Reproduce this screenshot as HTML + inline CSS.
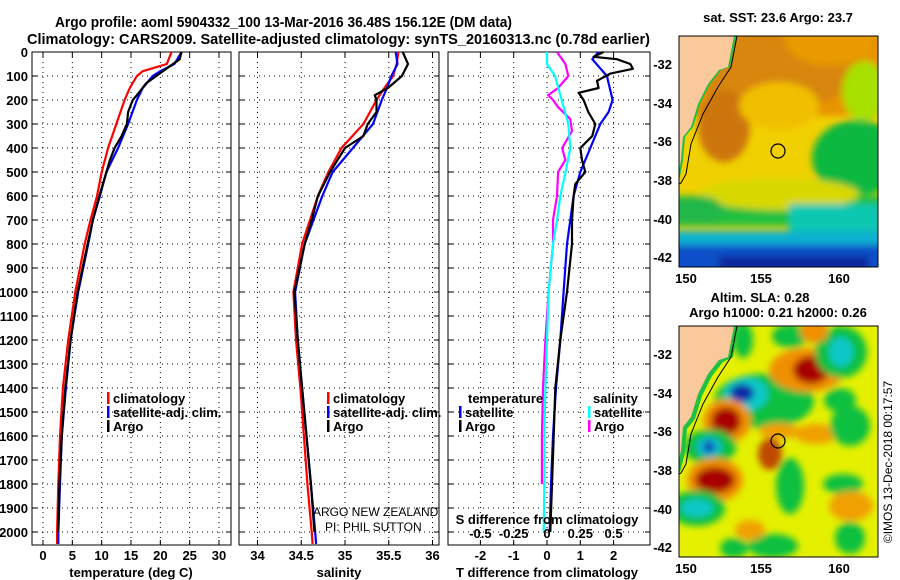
<!DOCTYPE html>
<html><head><meta charset="utf-8">
<style>
html,body{margin:0;padding:0;background:#fff;}
svg{display:block;font-family:"Liberation Sans",Arial,sans-serif;}
.b{font-weight:bold;font-size:13px;}
</style></head>
<body>
<svg id="chart" width="900" height="580" viewBox="0 0 900 580" xmlns="http://www.w3.org/2000/svg">
<defs>
<filter id="bl" x="-20%" y="-20%" width="140%" height="140%"><feGaussianBlur stdDeviation="3.5"/></filter>
<clipPath id="cm1"><rect x="0" y="0" width="199" height="231"/></clipPath>
<clipPath id="cm2"><rect x="0" y="0" width="199" height="231"/></clipPath>
</defs>
<text x="55" y="27" font-size="15" font-weight="bold" textLength="457" lengthAdjust="spacingAndGlyphs">Argo profile: aoml 5904332_100 13-Mar-2016 36.48S 156.12E (DM data)</text>
<text x="27" y="44" font-size="15" font-weight="bold" textLength="623" lengthAdjust="spacingAndGlyphs">Climatology: CARS2009. Satellite-adjusted climatology: synTS_20160313.nc (0.78d earlier)</text>
<g id="plots"></g>

<!-- Map 1 SST -->
<text x="778" y="22" text-anchor="middle" class="b">sat. SST: 23.6 Argo: 23.7</text>
<g transform="translate(679,36)">
 <g clip-path="url(#cm1)">
  <rect width="199" height="231" fill="#f0d000"/>
  <g filter="url(#bl)">
   <rect x="0" y="-10" width="210" height="90" fill="#e89400"/>
   <ellipse cx="95" cy="30" rx="85" ry="45" fill="#d88608"/>
   <ellipse cx="45" cy="90" rx="26" ry="36" fill="#cc7410"/>
   <ellipse cx="100" cy="70" rx="40" ry="24" fill="#f0c000"/>
   <ellipse cx="150" cy="0" rx="45" ry="30" fill="#e89a00"/>
   <ellipse cx="185" cy="55" rx="22" ry="30" fill="#a8e000"/>
   <ellipse cx="178" cy="122" rx="45" ry="38" fill="#10b840"/>
   <rect x="-10" y="160" width="220" height="30" fill="#20c040"/>
   <ellipse cx="100" cy="158" rx="80" ry="16" fill="#d8d800"/>
   <ellipse cx="20" cy="175" rx="25" ry="15" fill="#20b848"/>
   <rect x="110" y="168" width="100" height="35" fill="#10c8b0"/>
   <rect x="-10" y="195" width="220" height="16" fill="#10b0d0"/>
   <rect x="-10" y="209" width="220" height="30" fill="#0c50c8"/>
   <rect x="40" y="220" width="150" height="20" fill="#0a2aa0"/>
  </g>
  <polygon points="0,0 57,0 51,31 42,34 31,48 21,68 14,91 6,101 4,124 1,141 0,141" fill="#1cc040"/>
  <polygon points="0,0 55,0 49,31 40,34 29,48 19,68 12,91 4,101 2,124 0,135" fill="#f9c89b"/>
  <polyline points="58,0 52,31 39,51 24,78 12,108 7,138 2,147 0,148" fill="none" stroke="#000" stroke-width="1"/>
 </g>
 <rect width="199" height="231" fill="none" stroke="#000" stroke-width="1"/>
 <circle cx="99" cy="115" r="7" fill="none" stroke="#000" stroke-width="1.2"/>
</g>
<g class="b">
 <text x="672" y="69" text-anchor="end">-32</text><text x="672" y="108" text-anchor="end">-34</text><text x="672" y="146" text-anchor="end">-36</text><text x="672" y="185" text-anchor="end">-38</text><text x="672" y="224" text-anchor="end">-40</text><text x="672" y="262" text-anchor="end">-42</text>
 <text x="686" y="283" text-anchor="middle">150</text><text x="761" y="283" text-anchor="middle">155</text><text x="839" y="283" text-anchor="middle">160</text>
</g>

<!-- Map 2 SLA -->
<text x="760" y="302" text-anchor="middle" class="b">Altim. SLA: 0.28</text>
<text x="778" y="317" text-anchor="middle" class="b">Argo h1000: 0.21 h2000: 0.26</text>
<g transform="translate(679,326)">
 <g clip-path="url(#cm2)">
  <rect width="199" height="231" fill="#e4f000"/>
  <g filter="url(#bl)">
   <ellipse cx="85" cy="75" rx="50" ry="27" fill="#10c040"/>
   <ellipse cx="67" cy="68" rx="22" ry="17" fill="#10c8c8"/>
   <ellipse cx="63" cy="67" rx="12" ry="9" fill="#0a2aa8"/>
   <ellipse cx="48" cy="95" rx="24" ry="22" fill="#f09000"/>
   <ellipse cx="47" cy="95" rx="15" ry="14" fill="#a80000"/>
   <ellipse cx="31" cy="121" rx="26" ry="18" fill="#10c040"/>
   <ellipse cx="30" cy="121" rx="12" ry="10" fill="#10b8d8"/>
   <ellipse cx="30" cy="121" rx="5" ry="6" fill="#0a2aa8"/>
   <ellipse cx="36" cy="154" rx="28" ry="22" fill="#f09000"/>
   <ellipse cx="36" cy="154" rx="20" ry="13" fill="#a80000"/>
   <ellipse cx="18" cy="182" rx="28" ry="18" fill="#10c040"/>
   <ellipse cx="18" cy="182" rx="16" ry="9" fill="#10c8c8"/>
   <ellipse cx="128" cy="44" rx="38" ry="22" fill="#f09000"/>
   <ellipse cx="132" cy="44" rx="18" ry="14" fill="#a80000"/>
   <ellipse cx="162" cy="26" rx="26" ry="26" fill="#10c040"/>
   <ellipse cx="162" cy="26" rx="12" ry="15" fill="#10c8c8"/>
   <ellipse cx="111" cy="10" rx="18" ry="12" fill="#10c040"/>
   <ellipse cx="135" cy="5" rx="14" ry="12" fill="#f09000"/>
   <ellipse cx="64" cy="14" rx="10" ry="18" fill="#10c040"/>
   <ellipse cx="91" cy="128" rx="12" ry="16" fill="#c04800"/>
   <ellipse cx="137" cy="108" rx="22" ry="10" fill="#f0a000"/>
   <ellipse cx="171" cy="100" rx="20" ry="20" fill="#10c040"/>
   <ellipse cx="161" cy="74" rx="16" ry="12" fill="#10c040"/>
   <ellipse cx="111" cy="160" rx="14" ry="28" fill="#10c040"/>
   <ellipse cx="164" cy="158" rx="20" ry="10" fill="#10c040"/>
   <ellipse cx="171" cy="212" rx="15" ry="16" fill="#10c040"/>
   <ellipse cx="94" cy="220" rx="25" ry="12" fill="#10c040"/>
   <ellipse cx="55" cy="222" rx="14" ry="10" fill="#10c040"/>
   <ellipse cx="71" cy="204" rx="15" ry="10" fill="#f0a000"/>
   <ellipse cx="172" cy="180" rx="22" ry="15" fill="#f0a000"/>
   <ellipse cx="100" cy="105" rx="20" ry="8" fill="#f0a000"/>
  </g>
  <polygon points="0,0 60,0 54,31 44,36 33,50 23,70 16,93 8,103 6,126 2,143 0,148" fill="#20c040"/>
  <polygon points="0,0 55,0 49,31 40,34 29,48 19,68 12,91 4,101 2,124 0,135" fill="#f9c89b"/>
  <polyline points="58,0 52,31 39,51 24,78 12,108 7,138 2,147 0,148" fill="none" stroke="#000" stroke-width="1"/>
 </g>
 <rect width="199" height="231" fill="none" stroke="#000" stroke-width="1"/>
 <circle cx="99" cy="115" r="7" fill="none" stroke="#000" stroke-width="1.2"/>
</g>
<g class="b">
 <text x="672" y="359" text-anchor="end">-32</text><text x="672" y="398" text-anchor="end">-34</text><text x="672" y="436" text-anchor="end">-36</text><text x="672" y="475" text-anchor="end">-38</text><text x="672" y="514" text-anchor="end">-40</text><text x="672" y="552" text-anchor="end">-42</text>
 <text x="686" y="573" text-anchor="middle">150</text><text x="761" y="573" text-anchor="middle">155</text><text x="839" y="573" text-anchor="middle">160</text>
</g>
<text transform="translate(892,462) rotate(-90)" text-anchor="middle" font-size="12">©IMOS 13-Dec-2018 00:17:57</text>

<script>
// ---- data ----
const tempDepthClim = [0,50,80,100,150,200,300,400,500,600,700,800,1000,1200,1400,1600,1800,2000,2050];
const tempClim = [21.9,21.1,17,16,14.8,13.9,12.5,11.1,10,9.2,8.1,7.1,5.5,4.3,3.4,2.9,2.6,2.4,2.4];
const tempSat = [23.6,22.4,20,18.7,17,16,14.5,12.8,10.8,9.7,8.5,7.7,6,4.7,3.9,3.2,2.9,2.6,2.6];
const tempDepthArgo = [0,30,70,100,130,180,200,250,300,350,400,450,500,600,700,800,1000,1200,1400,1600,1800,2000];
const tempArgo = [23.6,23.3,21,19.3,17.6,16,15.3,14.5,14.3,13.4,12.2,11.4,10.8,9.6,8.5,7.6,5.9,4.7,3.8,3.2,2.8,2.6];
const salDepth = [0,50,100,150,200,300,400,500,600,700,800,1000,1200,1400,1600,1800,2000,2050];
const salClim = [35.61,35.59,35.55,35.45,35.36,35.21,34.96,34.81,34.69,34.6,34.51,34.41,34.44,34.49,34.53,34.57,34.62,34.63];
const salSat = [35.58,35.6,35.53,35.48,35.42,35.32,35.09,34.86,34.74,34.64,34.54,34.43,34.46,34.51,34.56,34.61,34.66,34.67];
const salDepthArgo = [0,50,100,150,180,200,250,300,350,400,500,600,700,800,1000,1200,1400,1600,1800,2000];
const salArgo = [35.66,35.72,35.65,35.49,35.34,35.36,35.36,35.26,35.21,35.0,34.83,34.69,34.62,34.54,34.42,34.46,34.51,34.56,34.61,34.65];
const dDepthArgoT = [0,20,30,50,70,90,120,150,170,200,250,300,350,400,450,500,550,600,700,800,1000,1200,1400,1600,1800,2000];
const dTempArgo = [1.7,1.4,2.1,2.5,2.58,1.9,1.5,1.55,0.95,1.1,1.24,1.45,1.36,1.0,1.05,1.15,0.85,0.8,0.75,0.75,0.6,0.4,0.25,0.2,0.15,0.1];
const dDepthSatT = [0,30,100,200,250,300,400,500,600,700,800,1000,1200,1400,1600,1800,2000];
const dTempSat = [1.55,1.36,1.8,1.97,1.85,1.6,1.3,1.0,0.8,0.7,0.6,0.5,0.4,0.27,0.18,0.12,0.08];
const dDepthSatS = [0,50,100,200,300,400,500,600,700,800,1000,1200,1400,1600,1800,2000];
const dSalSat = [0,0,0.06,0.11,0.16,0.175,0.14,0.1,0.075,0.045,0.012,0,-0.012,-0.02,-0.02,-0.025];
const dDepthArgoS = [0,50,100,150,180,200,230,280,330,400,450,500,600,700,800,1000,1200,1400,1600,1800];
const dSalArgo = [0.075,0.138,0.16,0.083,0.008,0.045,0.083,0.175,0.188,0.113,0.138,0.083,0.075,0.045,0.045,0.012,-0.012,-0.03,-0.038,-0.038];
const depthTicks = [0,100,200,300,400,500,600,700,800,900,1000,1100,1200,1300,1400,1500,1600,1700,1800,1900,2000];
const tempTicks = [0,5,10,15,20,25,30];
const salTicks = [34,34.5,35,35.5,36];
const salTickLabels = ["34","34.5","35","35.5","36"];
const dTempTicks = [-2,-1,0,1,2];
const dSalTicks = [-0.5,-0.25,0,0.25,0.5];
const dSalTickLabels = ["-0.5","-0.25","0","0.25","0.5"];

// ---- axes ----
const TOP=52, BOT=545;
const yD = d => TOP + d*0.24;
const xT = t => 43 + t*5.867;
const xS = s => 257.5 + (s-34)*87.5;
const xDT = t => 547 + t*33.3;
const xDS = s => 547 + s*4*33.3;
const NS="http://www.w3.org/2000/svg";
const root=document.getElementById('plots');
function mk(tag,attrs,parent){const e=document.createElementNS(NS,tag);for(const k in attrs)e.setAttribute(k,attrs[k]);(parent||root).appendChild(e);return e;}
function txt(x,y,s,anchor,parent){const t=mk('text',{x:x,y:y,'text-anchor':anchor||'start','font-weight':'bold','font-size':13},parent);t.textContent=s;return t;}

function panel(name,L,R,xf,ticks,labels){
  const g=mk('g',{});
  
  
  depthTicks.forEach(d=>{ if(d>0) mk('line',{x1:L,x2:R,y1:yD(d),y2:yD(d),stroke:'#000','stroke-width':1,'stroke-dasharray':'1 4'},g);
    mk('line',{x1:L,x2:L+5,y1:yD(d),y2:yD(d),stroke:'#000'},g); mk('line',{x1:R-5,x2:R,y1:yD(d),y2:yD(d),stroke:'#000'},g);});
  ticks.forEach((v,i)=>{const x=xf(v); mk('line',{x1:x,x2:x,y1:TOP,y2:BOT,stroke:'#000','stroke-dasharray':'1 4'},g);
    mk('line',{x1:x,x2:x,y1:TOP,y2:TOP+5,stroke:'#000'},g); mk('line',{x1:x,x2:x,y1:BOT-5,y2:BOT,stroke:'#000'},g);
    if(labels){const t=txt(x,560,labels[i],'middle',g); }});
  mk('rect',{x:L,y:TOP,width:R-L,height:BOT-TOP,fill:'none',stroke:'#000','stroke-width':1},g);
  return g;
}
function line(name,depths,vals,xf,color,g){
  const p=mk('polyline',{points:depths.map((d,i)=>xf(vals[i]).toFixed(1)+','+yD(d).toFixed(1)).join(' '),fill:'none',stroke:color,'stroke-width':2.2,'stroke-linejoin':'round'},g);
  
  
}
function legend(g,x,y,color,label){
  mk('rect',{x:x,y:y-11,width:2.5,height:12,fill:color},g);
  const t=txt(x+6,y,label,'start',g);
  
  
}

depthTicks.forEach(d=>{const t=txt(28,yD(d)+5,String(d),'end');
  
  });

const g1=panel('temperature-panel',32,231,xT,tempTicks,tempTicks.map(String));
line('temp-climatology-line',tempDepthClim,tempClim,xT,'#ff0000',g1);
line('temp-satellite-line',tempDepthClim,tempSat,xT,'#0000ff',g1);
line('temp-argo-line',tempDepthArgo,tempArgo,xT,'#000000',g1);
legend(g1,107,403,'#ff0000','climatology');
legend(g1,107,417,'#0000ff','satellite-adj. clim.');
legend(g1,107,431,'#000000','Argo');
const xt1=txt(131,577,'temperature (deg C)','middle',g1);


const g2=panel('salinity-panel',239,439,xS,salTicks,salTickLabels);
line('sal-climatology-line',salDepth,salClim,xS,'#ff0000',g2);
line('sal-satellite-line',salDepth,salSat,xS,'#0000ff',g2);
line('sal-argo-line',salDepthArgo,salArgo,xS,'#000000',g2);
legend(g2,327,403,'#ff0000','climatology');
legend(g2,327,417,'#0000ff','satellite-adj. clim.');
legend(g2,327,431,'#000000','Argo');
const xt2=txt(339,577,'salinity','middle',g2);

const n1=mk('text',{x:313,y:516,'font-size':12},g2); n1.textContent='ARGO NEW ZEALAND';

const n2=mk('text',{x:325,y:531,'font-size':12},g2); n2.textContent='PI: PHIL SUTTON';


const g3=panel('difference-panel',448,650,xDT,dTempTicks,dTempTicks.map(String));
line('salinity-argo-diff-line',dDepthArgoS,dSalArgo,xDS,'#ff00ff',g3);
line('salinity-satellite-diff-line',dDepthSatS,dSalSat,xDS,'#00ffff',g3);
line('temp-satellite-diff-line',dDepthSatT,dTempSat,xDT,'#0000ff',g3);
line('temp-argo-diff-line',dDepthArgoT,dTempArgo,xDT,'#000000',g3);
const lt=txt(468,403,'temperature','start',g3); 
legend(g3,459,417,'#0000ff','satellite');
legend(g3,459,431,'#000000','Argo');
const ls=txt(593,403,'salinity','start',g3); 
legend(g3,588,417,'#00ffff','satellite');
legend(g3,588,431,'#ff00ff','Argo');
const st=txt(547,524,'S difference from climatology','middle',g3);

dSalTicks.forEach((v,i)=>{const t=txt(xDS(v),538,dSalTickLabels[i],'middle',g3);
  });
const xt3=txt(547,577,'T difference from climatology','middle',g3);

</script>
</svg>
</body></html>
